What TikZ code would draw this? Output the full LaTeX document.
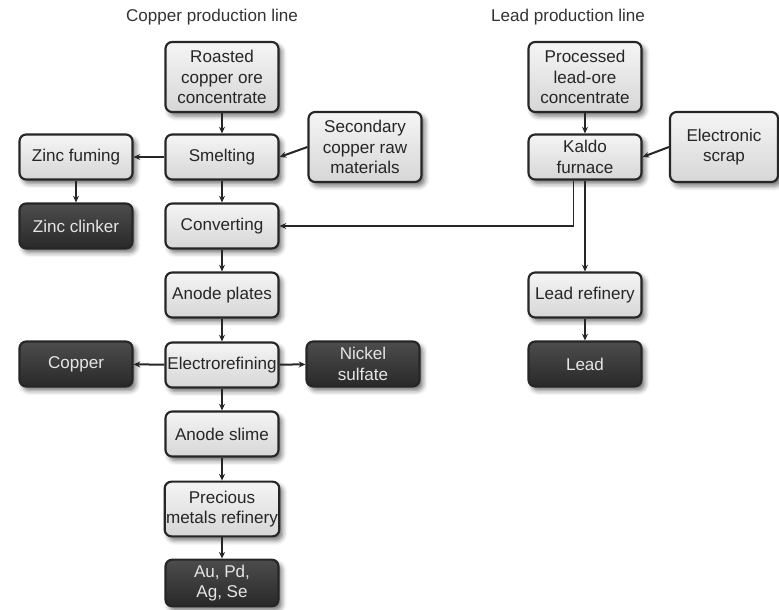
\documentclass[tikz,border=0pt]{standalone}
\usepackage{fontspec}
\setmainfont{Liberation Sans}
\usetikzlibrary{arrows.meta,shadows.blur}

\begin{document}
\begin{tikzpicture}[x=0.75pt,y=-0.75pt,
  proc/.style={draw=black!85, line width=1.6pt, rounded corners=5pt,
    top color=gray!8, bottom color=gray!32,
    minimum width=84.75pt, minimum height=33.75pt, inner sep=1pt,
    align=center, font=\fontsize{12.8}{15.4}\selectfont, text=black!85,
    blur shadow={shadow xshift=2.5pt, shadow yshift=-3pt,
      shadow blur radius=3.5pt, shadow opacity=55}},
  prod/.style={proc, top color=black!70, bottom color=black!84,
    text=white!90!black},
  tall/.style={minimum height=52.5pt},
  flow/.style={draw=black!85, line width=1.5pt,
    -{Stealth[length=5pt,width=4.5pt]}},
  ttl/.style={font=\fontsize{12.8}{15}\selectfont, text=black!80},
]
\useasboundingbox (0,0) rectangle (779,610);

% line titles
\node[ttl] (tcu) at (212,17) {Copper production line};
\node[ttl] (tpb) at (568,17) {Lead production line};

% copper line
\node[proc,tall] (roast) at (222,77) {Roasted\\copper ore\\concentrate};
\node[proc] (smelt) at (222,157) {Smelting};
\node[proc,tall] (second) at (365,147) {Secondary\\copper raw\\materials};
\node[proc] (zincf) at (76,157) {Zinc fuming};
\node[prod] (zincc) at (76,226) {Zinc clinker};
\node[proc] (conv) at (222,226) {Converting};
\node[proc] (anode) at (222,295) {Anode plates};
\node[proc] (electro) at (222,365) {Electrorefining};
\node[prod] (copper) at (76,364) {Copper};
\node[prod] (nickel) at (363,364) {Nickel\\sulfate};
\node[proc] (slime) at (222,434) {Anode slime};
\node[proc,minimum height=41pt] (prec) at (222,509) {Precious\\metals refinery};
\node[prod,minimum height=35pt] (metals) at (222,583) {Au, Pd,\\Ag, Se};

% lead line
\node[proc,tall] (pbore) at (585,77) {Processed\\lead-ore\\concentrate};
\node[proc] (kaldo) at (585,157) {Kaldo\\furnace};
\node[proc,tall,minimum width=81pt] (scrap) at (724,147) {Electronic\\scrap};
\node[proc] (pbref) at (585,295) {Lead refinery};
\node[prod] (lead) at (585,364) {Lead};

% copper connectors
\draw[flow] (roast) -- (smelt);
\draw[flow] (second.west) -- (smelt.east);
\draw[flow] (smelt) -- (zincf);
\draw[flow] (zincf) -- (zincc);
\draw[flow] (smelt) -- (conv);
\draw[flow] (conv) -- (anode);
\draw[flow] (anode) -- (electro);
\draw[flow] (electro) -- (copper);
\draw[flow] (electro) -- (nickel);
\draw[flow] (electro) -- (slime);
\draw[flow] (slime) -- (prec);
\draw[flow] (prec) -- (metals);

% lead connectors
\draw[flow] (pbore) -- (kaldo);
\draw[flow] (scrap.west) -- (kaldo.east);
\draw[flow] (kaldo) -- (pbref);
\draw[flow] (pbref) -- (lead);
\draw[flow,line width=1.1pt] ([xshift=-8.5pt]kaldo.south) |- (conv.east);
\end{tikzpicture}
\end{document}
